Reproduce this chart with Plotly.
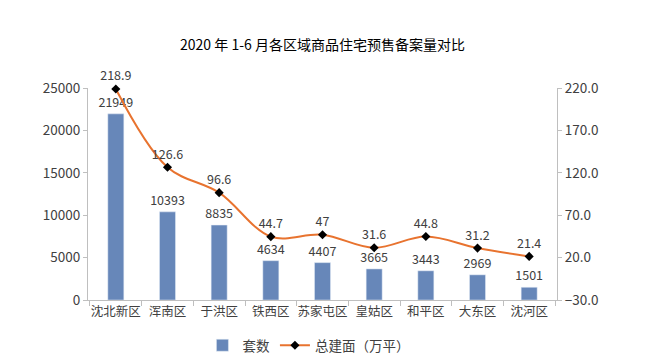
import plotly.graph_objects as go

categories = ["沈北新区", "浑南区", "于洪区", "铁西区", "苏家屯区", "皇姑区", "和平区", "大东区", "沈河区"]
units = [21949, 10393, 8835, 4634, 4407, 3665, 3443, 2969, 1501]
area = [218.9, 126.6, 96.6, 44.7, 47, 31.6, 44.8, 31.2, 21.4]
area_labels = ["218.9", "126.6", "96.6", "44.7", "47", "31.6", "44.8", "31.2", "21.4"]

FONT = "Noto Sans CJK SC"
fig = go.Figure()
fig.add_trace(go.Bar(
    x=categories, y=units, name="套数",
    marker_color="#6787B9", width=0.31,
    text=[str(v) for v in units], textposition="outside", constraintext="none",
    textfont=dict(size=12.5, color="#404040"), cliponaxis=False,
))
fig.add_trace(go.Scatter(
    x=categories, y=area, name="总建面（万平）", yaxis="y2",
    mode="lines+markers+text", line=dict(color="#E8732F", width=2, shape="spline"),
    marker=dict(symbol="diamond", size=7, color="#000000"),
    text=area_labels, textposition="top center",
    textfont=dict(size=12.5, color="#404040"), cliponaxis=False,
))
fig.update_layout(
    width=645, height=359,
    margin=dict(l=80, r=96, t=80, b=67, autoexpand=False),
    paper_bgcolor="white", plot_bgcolor="white",
    font=dict(family=FONT, color="#404040", size=13),
    title=dict(text="2020 年 1-6 月各区域商品住宅预售备案量对比", x=0.5, xref="paper", xanchor="center",
               y=0.897, yref="container", yanchor="middle", automargin=False,
               font=dict(size=14, color="#000000", family=FONT)),
    showlegend=True,
    legend=dict(orientation="h", x=0.47, xanchor="center", y=0.06, yref="container",
                yanchor="middle", font=dict(size=13.5, color="#404040")),
    bargap=0.69,
    xaxis=dict(type="category", showline=True, linecolor="#BFBFBF", ticks="outside",
               tickson="boundaries", ticklen=5, tickcolor="#BFBFBF", tickangle=0,
               automargin=False, tickfont=dict(size=12.5, color="#404040")),
    yaxis=dict(range=[0, 25000], dtick=5000, tickformat="d", showgrid=False, showline=True,
               linecolor="#BFBFBF", ticks="outside", ticklen=4, tickcolor="#BFBFBF",
               automargin=False, tickfont=dict(size=13.5), zeroline=False),
    yaxis2=dict(range=[-30, 220], dtick=50, tick0=-30, overlaying="y", side="right",
                showgrid=False, showline=True, linecolor="#BFBFBF", ticks="outside",
                ticklen=4, tickcolor="#BFBFBF", tickformat=".1f", automargin=False,
                tickfont=dict(size=13.5), zeroline=False),
)
fig.write_html("out.html")
